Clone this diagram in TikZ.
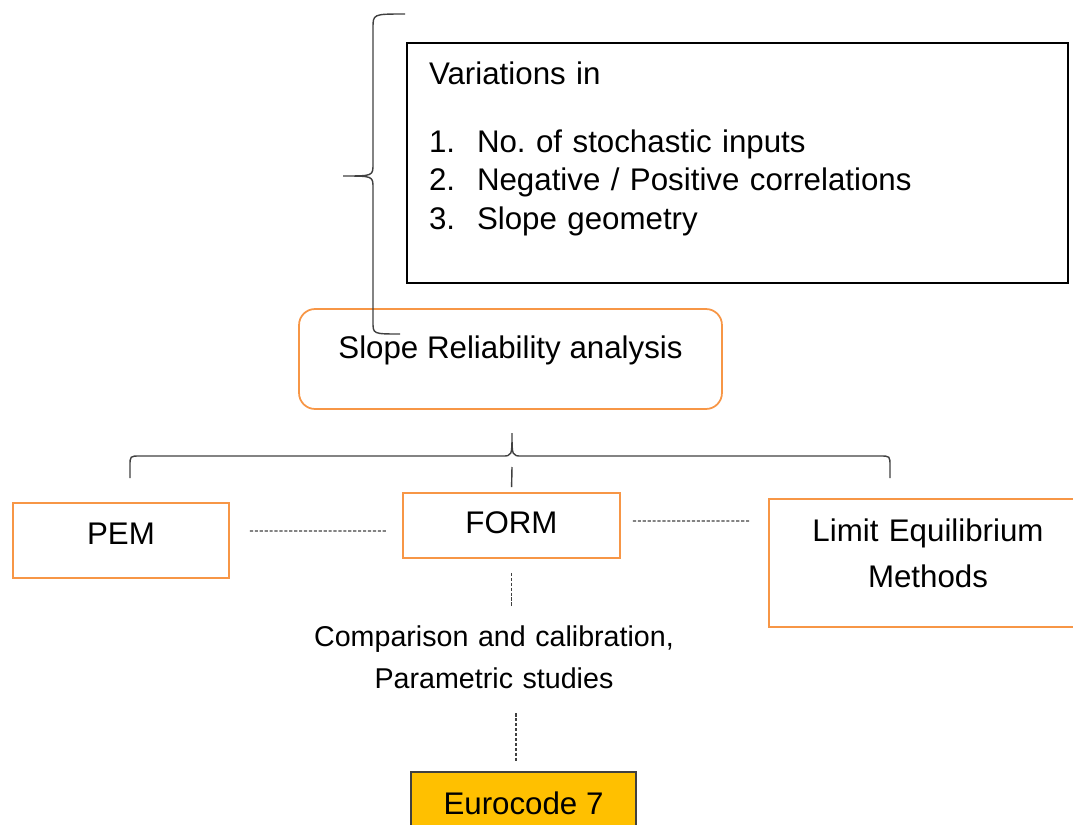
\documentclass[tikz,border=0pt]{standalone}
\usepackage{fontspec}
\setmainfont{Liberation Sans}
\usepackage{tikz}
\usetikzlibrary{calc}
\definecolor{boxorange}{RGB}{247,150,70}
\definecolor{eurogold}{RGB}{255,192,0}
\definecolor{linegray}{RGB}{64,64,64}

\begin{document}
\begin{tikzpicture}[x=0.02cm, y=-0.02cm,
    bigtext/.style={font=\fontsize{17.8pt}{21.8pt}\selectfont},
    orangebox/.style={draw=boxorange, line width=1pt, inner sep=0pt, bigtext},
    bracket/.style={draw=linegray, line width=0.8pt},
    dashline/.style={draw=linegray, line width=0.7pt, dash pattern=on 1.8pt off 1pt}]
  \useasboundingbox (0,0) rectangle (1073,825);
  % top: list of variations
  \node[draw=black, line width=1.2pt, anchor=base west, inner xsep=0.44cm,
        inner ysep=0pt, text width=12.34cm, align=left, text height=0.82cm,
        text depth=3.98cm, bigtext] (vars) at (406,84)
    {Variations in\\[17.3pt]
     \makebox[0.96cm][l]{1.}No.\ of stochastic inputs\\
     \makebox[0.96cm][l]{2.}Negative / Positive correlations\\
     \makebox[0.96cm][l]{3.}Slope geometry};
  \node[orangebox, rounded corners=0.32cm, minimum width=8.46cm,
        text height=0.98cm, text depth=1.02cm, anchor=base] (slope)
    at (510.5,358) {Slope Reliability analysis};
  \draw[bracket] (405,14) .. controls (373,14) .. (373,28) -- (373,164)
    .. controls (373,176) .. (343,176) .. controls (373,176) .. (373,188)
    -- (373,322) .. controls (373,334) .. (400,334);
  % middle: the three methods
  \draw[bracket] (130,478) -- (130,466) .. controls (130,456) .. (140,456)
    -- (502,456) .. controls (512,456) .. (512,433)
    .. controls (512,456) .. (522,456) -- (880,456)
    .. controls (890,456) .. (890,466) -- (890,478);
  \coordinate (bracetip) at (512,467);
  \node[orangebox, minimum width=4.32cm, text height=0.82cm,
        text depth=0.68cm, anchor=base] (pem) at (121,544) {PEM};
  \node[orangebox, minimum width=4.34cm, text height=0.8cm,
        text depth=0.5cm, anchor=base] (form) at (511.5,533) {FORM};
  \node[orangebox, text width=6.36cm, align=center, text height=0.84cm,
        text depth=1.72cm, anchor=base,
        font=\fontsize{17.8pt}{26.6pt}\selectfont] (lem) at (928,541)
    {Limit Equilibrium\\Methods};
  \draw[bracket, shorten >=0.1cm] (bracetip) -- (form.north);
  \draw[dashline] ($(pem.east)+(20,-9.5)$) -- ($(form.west)+(-15,5.5)$);
  \draw[dashline] ($(form.east)+(12,-4.5)$) -- ($(lem.west)+(-19,-42)$);
  % bottom: outcome
  \node[text width=7.6cm, align=center, inner sep=0pt, text height=0.5cm,
        text depth=1.02cm, anchor=base,
        font=\fontsize{16.3pt}{24.4pt}\selectfont] (cmp) at (494,646)
    {Comparison and calibration,\\Parametric studies};
  \node[draw=linegray, fill=eurogold, line width=1pt, inner sep=0pt,
        minimum width=4.5cm, text height=0.84cm, text depth=0.8cm,
        anchor=base, bigtext] (euro) at (523.5,814) {Eurocode 7};
  \draw[dashline, shorten <=0.28cm, shorten >=0.3cm]
    (form.south) -- (form.south |- cmp.north);
  \draw[dashline] ($(cmp.south)+(22,16)$) -- ($(euro.north)+(-7.5,-9)$);
\end{tikzpicture}
\end{document}
